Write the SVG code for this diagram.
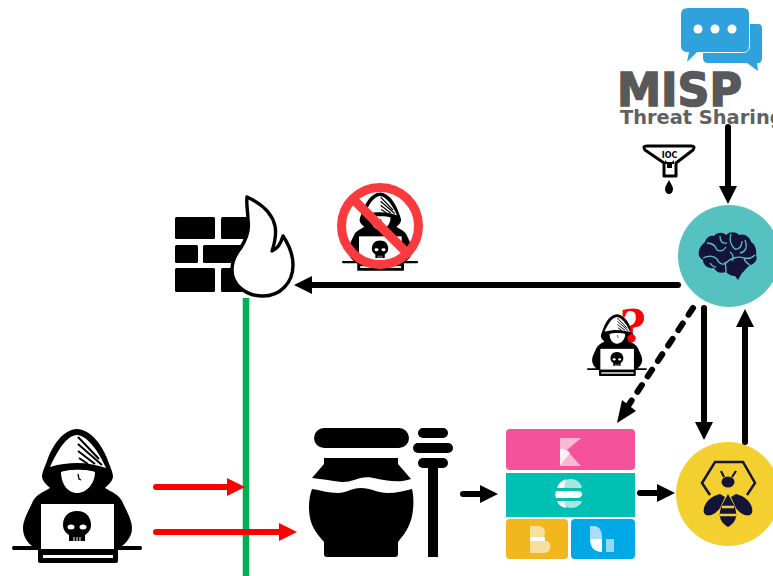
<svg xmlns="http://www.w3.org/2000/svg" width="773" height="576" viewBox="0 0 773 576">
<style>
.k{fill:#000}.w{fill:#fff}
.a{fill:none;stroke:#000;stroke-width:6;stroke-linecap:round}
.r{fill:none;stroke:#f00;stroke-width:6;stroke-linecap:round}
text{font-family:"DejaVu Sans","Liberation Sans",sans-serif;font-weight:bold}
</style>
<defs>
<marker id="hk" markerUnits="userSpaceOnUse" markerWidth="20" markerHeight="20" refX="1" refY="10" orient="auto"><path d="M0 1L18 10L0 19Z" fill="#000"/></marker>
<marker id="hr" markerUnits="userSpaceOnUse" markerWidth="20" markerHeight="20" refX="1" refY="10" orient="auto"><path d="M0 1L18 10L0 19Z" fill="#f00"/></marker>
<g id="hacker">
<path class="k" d="M77 429C62 430 53 446 48 458C46 465 42 471 42 477C43 482 47 485 50 488C43 492 36 495 33 501C29 510 23 520 23 528C23 536 27 542 32 546L13 546Q11 548 13 550L38 550V561Q38 563 40 563H116Q118 563 118 561V550L141 550Q143 548 141 546L122 546C127 542 132 536 132 528C132 520 126 510 122 501C119 495 112 492 105 488C108 485 112 482 113 477C113 471 109 465 107 458C102 446 92 430 77 429Z"/>
<path class="w" d="M77 435C66 436 58 450 50 467C60 464 68 463 77 463C88 463 97 465 106 468C99 452 88 436 77 435Z"/>
<path d="M78 437L99 459M78 444L102 465M78 451L95 464M79 458L88 464" stroke="#000" stroke-width="2" fill="none"/>
<path class="w" d="M61 472C68 469 88 469 95 472C95 483 87 493 77 493C67 493 61 483 61 472Z"/>
<path d="M78 474L79 479L81 480" stroke="#000" stroke-width="1.3" fill="none"/>
<rect class="w" x="41" y="504" width="73" height="45"/>
<rect class="w" x="43" y="555" width="70" height="3"/>
<path class="k" d="M77 511C68 511 63 517 63 525C63 530 66 533 69 535V541H85V535C88 533 91 530 91 525C91 517 86 511 77 511Z"/>
<ellipse class="w" cx="71" cy="527" rx="3.5" ry="2.5"/><ellipse class="w" cx="83" cy="527" rx="3.5" ry="2.5"/>
<path d="M74 537V541M77 537V541M80 537V541" stroke="#fff" stroke-width="1"/>
</g>
</defs>
<rect width="773" height="576" fill="#fff"/>

<g id="misp">
<path fill="#2fa1dc" d="M712 24H758Q762 24 762 28V58Q762 63 758 63H757L758 71L747 63H708Q703 63 703 58V48H712Z"/>
<rect x="680" y="7" width="70" height="46" rx="7" fill="#fff"/>
<path fill="#2fa1dc" d="M688 8H743Q749 8 749 14V46Q749 52 743 52H697L687 62L689 52H688Q681 52 681 46V14Q681 8 688 8Z"/>
<circle class="w" cx="698" cy="29" r="4.5"/><circle class="w" cx="715" cy="29" r="4.5"/><circle class="w" cx="732" cy="29" r="4.5"/>
<text x="617" y="105.500" font-size="46" fill="#58595b" stroke="#58595b" stroke-width="1.600" textLength="125" lengthAdjust="spacingAndGlyphs">MISP</text>
<text x="620" y="124" font-size="19.400" fill="#616163">Threat Sharing</text>
</g>

<g id="ioc">
<path d="M647 146H691Q696 146 693 150L676 163V176H664V163L645 150Q642 146 647 146Z" fill="#fff" stroke="#000" stroke-width="3" stroke-linejoin="round"/>
<text x="669.500" y="158" font-size="8" text-anchor="middle" fill="#000">IOC</text>
<path class="k" d="M665 160L667 162H672L674 160V164H672V168H667V164H665Z"/>
<path d="M669 180C667 184 665 186 665 189C665 192 667 194 669 194C671 194 673 192 673 189C673 186 671 184 669 180Z" fill="#000"/>
</g>

<g id="firewall">
<rect class="k" x="175" y="217" width="40" height="22" rx="1.500"/>
<rect class="k" x="221" y="217" width="28" height="22" rx="1.500"/>
<rect class="k" x="175" y="245" width="23" height="18" rx="1.500"/>
<rect class="k" x="203" y="245" width="40" height="18" rx="1.500"/>
<rect class="k" x="175" y="268" width="40" height="24" rx="1.500"/>
<rect class="k" x="221" y="268" width="22" height="24" rx="1.500"/>
<path d="M247 197C260 203 272 212 275 226C277 236 274 245 272 251C277 249 281 243 283 236C289 245 293 254 293 265C293 283 280 296 263 296C246 296 232 285 232 270C232 260 236 254 240 249C246 240 250 231 248 220C248 212 246 204 247 197Z" fill="#fff" stroke="#000" stroke-width="3.400" stroke-linejoin="round"/>
</g>

<g id="banned">
<use href="#hacker" transform="translate(335 -58.500) scale(.585)"/>
<circle cx="380" cy="226" r="38.500" fill="none" stroke="#fb3a3e" stroke-width="9"/>
<path d="M353 199L407 253" stroke="#fb3a3e" stroke-width="9"/>
</g>

<g id="suspect">
<use href="#hacker" transform="translate(581.500 117) scale(.46)"/>
<text x="633" y="342" font-size="45" text-anchor="middle" fill="#f00" style="font-family:'DejaVu Serif',serif">?</text>
</g>

<g id="attacker"><use href="#hacker"/></g>

<g id="honeypot">
<rect class="k" x="314" y="428" width="95" height="20" rx="10"/>
<path class="k" d="M324 458H398V464L411 479C400 483 388 481 378 479C368 476 362 477 354 480C346 483 338 482 328 480C322 479 318 479 312 478L324 464Z"/>
<path class="k" d="M312 489C320 490 328 493 338 493C346 493 352 488 361 488C370 488 378 493 388 493C396 493 404 491 412 489C414 497 414 510 411 520C408 530 402 537 398 542V554Q398 557 395 557H327Q324 557 324 554V542C318 535 312 528 310 518C308 508 309 497 312 489Z"/>
<rect class="k" x="418" y="428" width="30" height="10" rx="5"/>
<rect class="k" x="413" y="443" width="40" height="10" rx="5"/>
<rect class="k" x="418" y="458" width="30" height="10" rx="5"/>
<rect class="k" x="428" y="462" width="10" height="95"/>
</g>

<g id="elastic">
<rect x="506" y="429" width="129" height="41" rx="4" fill="#f4529a"/>
<rect x="506" y="473" width="129" height="44" fill="#00bfb3"/>
<rect x="506" y="519" width="62" height="40" rx="4" fill="#f3b71e"/>
<rect x="571" y="519" width="64" height="40" rx="4" fill="#00a9e5"/>
<path fill="#fbb9d5" d="M560 438H581L560 456Z"/>
<path fill="#fff" d="M560 449C565 449 570 451 570 454L560 466Z" opacity=".9"/>
<path fill="#fbb9d5" d="M570 454L581 466H560Z"/>
<path fill="#a8e6e1" d="M560 488C562 482 566 479 571 479C576 479 580 482 582 487L581 488Z"/>
<path fill="#fff" d="M566 479C561 481 558 484 557 488H564Z"/>
<path fill="#fff" d="M556 491H577Q582 491 582 494Q582 498 577 498H556C555 496 555 493 556 491Z"/>
<path fill="#a8e6e1" d="M560 501H581L582 502C580 505 576 508 571 508C566 508 562 505 560 501Z"/>
<path fill="#fff" d="M557 501H564L566 508C561 507 558 504 557 501Z"/>
<path fill="#f9df9d" d="M530 526H538C545 526 546 532 544 537H530Z"/>
<path fill="#fff" d="M530 537H545V541H530Z"/>
<path fill="#f9df9d" d="M530 541H546C552 541 552 553 544 553H530Z"/>
<path fill="#a9dcf7" d="M590 526H594C600 526 602 532 602 537V539H590Z"/>
<path fill="#fff" d="M590 539H602V552C594 552 590 547 590 539Z"/>
<rect x="606" y="539" width="8" height="13" fill="#99d8f5"/>
</g>

<g id="brain">
<circle cx="729" cy="256" r="51" fill="#56c2c0"/>
<path fill="#141439" d="M699 251C700 246 703 244 705 242C706 238 710 235 714 236C717 232 723 232 726 235C730 231 737 232 739 235C744 233 750 237 751 242C755 244 757 250 756 255C758 259 755 264 750 265C746 268 744 272 742 273L738 280L735 276C731 276 728 274 726 272C720 274 716 272 714 268C708 269 703 265 703 260C699 258 698 254 699 251Z"/>
<path fill="none" stroke="#56c2c0" stroke-width="1.300" d="M707 243C714 243 716 247 717 250C721 252 724 250 726 247M720 236C720 241 722 244 727 243M731 234C729 240 731 246 735 249C739 250 742 246 742 241M745 240C748 248 745 252 740 253M703 258C709 255 714 256 717 259C719 264 724 266 727 262C731 258 738 256 744 258C748 259 752 258 755 255M725 262C726 267 726 270 726 272M730 252C733 254 734 258 732 261M710 263C712 266 714 267 716 267M744 258C745 262 748 264 750 265"/>
</g>

<g id="bee">
<circle cx="728" cy="494" r="52" fill="#f3d02f"/>
<path d="M710 495L702 483L715 462H743L755 483L747 495" fill="none" stroke="#141439" stroke-width="2.500"/>
<ellipse cx="728" cy="482" rx="6.500" ry="5.500" fill="#141439"/>
<path d="M721 471L724 477M736 471L732 477" stroke="#141439" stroke-width="2.200" fill="none"/>
<path fill="#141439" d="M720 494C710 496 702 505 704 513C707 518 715 515 720 508L725 497Z"/>
<path fill="#141439" d="M736 494C746 496 754 505 752 513C749 518 741 515 736 508L731 497Z"/>
<path fill="#141439" d="M728 494L722 505C718 514 719 522 728 527C737 522 738 514 734 505Z"/>
<path d="M722 507H734M720 515H736" stroke="#f3d02f" stroke-width="2.600"/>
</g>

<g id="connectors">
<path d="M246 298V576" fill="none" stroke="#00b050" stroke-width="6.500"/>
<path class="a" d="M728 127V187" marker-end="url(#hk)"/>
<path class="a" d="M678 285H311" marker-end="url(#hk)"/>
<path class="a" d="M704 308V423" marker-end="url(#hk)"/>
<path class="a" d="M745 442V326" marker-end="url(#hk)"/>
<path class="a" d="M693 308L628 406" stroke-dasharray="8 10.500"/>
<path class="k" d="M617 423L622 400L636 411Z"/>
<path class="a" d="M463 494H481" marker-end="url(#hk)"/>
<path class="a" d="M640 493H658" marker-end="url(#hk)"/>
<path class="r" d="M156 487H228" marker-end="url(#hr)"/>
<path class="r" d="M156 532H280" marker-end="url(#hr)"/>
</g>
</svg>
